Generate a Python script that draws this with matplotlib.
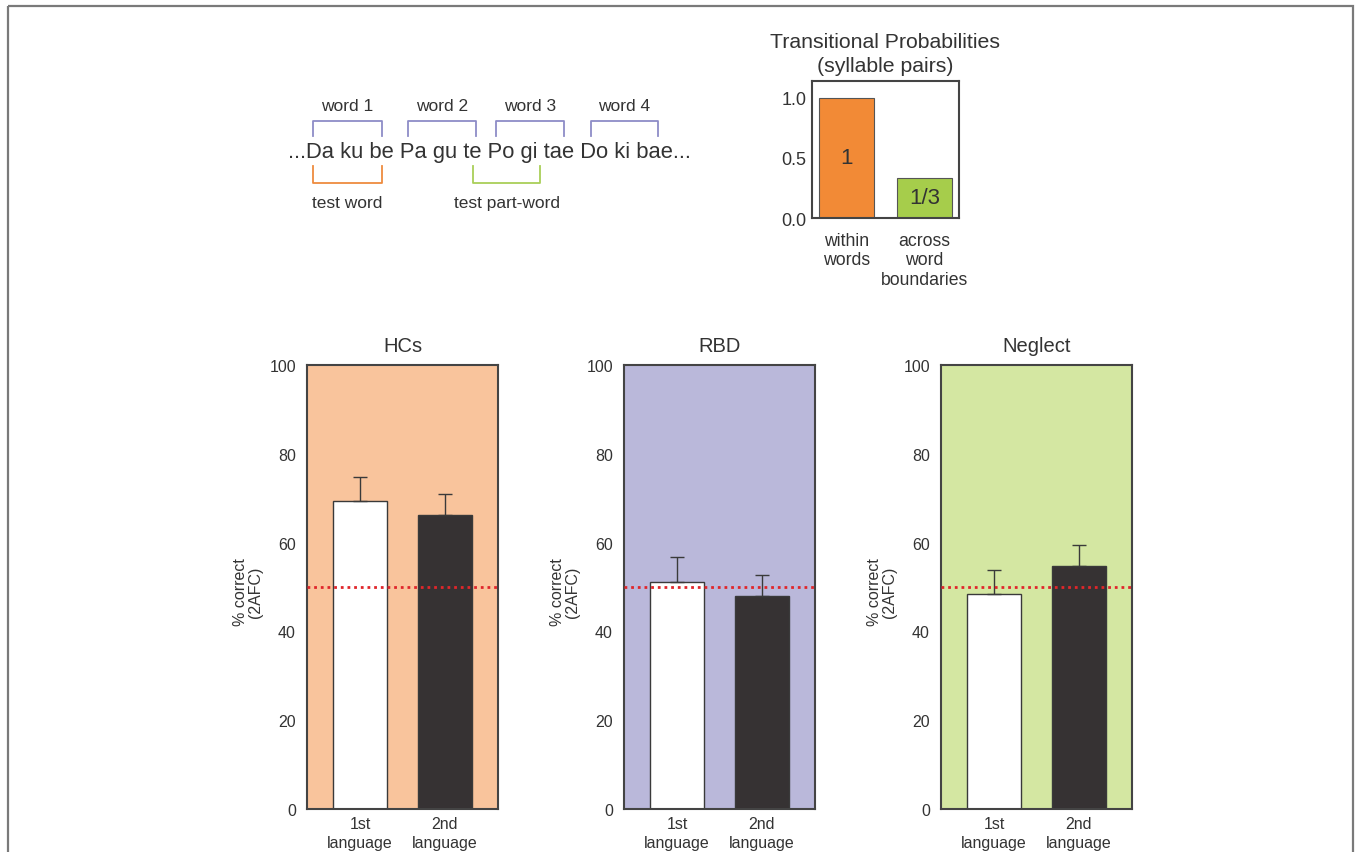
import matplotlib
matplotlib.use("Agg")
import matplotlib.pyplot as plt
from matplotlib.patches import Rectangle

plt.rcParams['font.family'] = ['Liberation Sans', 'DejaVu Sans']
plt.rcParams['text.color'] = '#333333'
plt.rcParams['axes.labelcolor'] = '#333333'
plt.rcParams['xtick.color'] = '#333333'
plt.rcParams['ytick.color'] = '#333333'

# transitional probabilities of syllable pairs
tp_labels = ["within\nwords", "across\nword\nboundaries"]
tp_values = [1.0, 1 / 3]
tp_texts = ["1", "1/3"]
tp_colors = ["#F28A36", "#A6CD4B"]

# 2AFC accuracy per group
groups = ["HCs", "RBD", "Neglect"]
group_bg = ["#F9C49C", "#BAB8DA", "#D4E7A2"]
conditions = ["1st\nlanguage", "2nd\nlanguage"]
mean_correct = {
    "HCs": [69.4, 66.2],
    "RBD": [51.1, 48.0],
    "Neglect": [48.4, 54.8],
}
sem_correct = {
    "HCs": [5.4, 4.7],
    "RBD": [5.6, 4.7],
    "Neglect": [5.4, 4.7],
}
chance = 50

# stream of syllables and the word segmentation above / test items below
stream = "...Da ku be Pa gu te Po gi tae Do ki bae..."
word_names = ["word 1", "word 2", "word 3", "word 4"]
word_spans = [(313, 382), (408, 476), (496, 564), (591, 658)]
test_names = ["test word", "test part-word"]
test_spans = [(313, 382), (473, 540)]
test_colors = ["#EE8B3F", "#A9CF58"]

W, H = 1356, 853
fig = plt.figure(figsize=(W / 100, H / 100), dpi=100)


def px_axes(l, t, r, b):
    return fig.add_axes([l / W, 1 - b / H, (r - l) / W, (b - t) / H])


def style_spines(ax):
    for s in ax.spines.values():
        s.set_color('#444444')
        s.set_linewidth(1.5)
    ax.tick_params(length=0)


# overlay for the diagram and the frame
ov = fig.add_axes([0, 0, 1, 1])
ov.set_xlim(0, W)
ov.set_ylim(H, 0)
ov.axis('off')
ov.add_patch(Rectangle((8, 7), 1345, 900, fill=False, edgecolor='#7a7a7a', lw=1.6))

ov.text(489.5, 152, stream, fontsize=15.8, ha='center', va='center', color='#333333')
for name, (x0, x1) in zip(word_names, word_spans):
    ov.plot([x0, x0, x1, x1], [137, 122, 122, 137], color='#8E8CC7', lw=1.3)
    ov.text((x0 + x1) / 2, 106, name, fontsize=12.5, ha='center', va='center')
for name, (x0, x1), c in zip(test_names, test_spans, test_colors):
    ov.plot([x0, x0, x1, x1], [167, 184, 184, 167], color=c, lw=1.3)
    ov.text((x0 + x1) / 2, 203, name, fontsize=12.5, ha='center', va='center')

# transitional probability bars
ax = px_axes(812, 82, 959, 219)
bars = ax.bar(range(len(tp_values)), tp_values, width=0.705, color=tp_colors,
              edgecolor='#555555', linewidth=0.8)
for b, v, t in zip(bars, tp_values, tp_texts):
    ax.text(b.get_x() + b.get_width() / 2, v / 2, t, fontsize=16,
            ha='center', va='center', color='#333333')
ax.set_xlim(-0.44, 1.44)
ax.set_ylim(0, 1.14)
ax.set_yticks([0, 0.5, 1.0])
ax.set_yticklabels(["0.0", "0.5", "1.0"], fontsize=13)
ax.set_xticks(range(len(tp_labels)))
ax.set_xticklabels(tp_labels, fontsize=12.7, va='top')
ax.tick_params(axis='x', pad=10)
ax.tick_params(axis='y', pad=4)
ax.set_title("Transitional Probabilities\n(syllable pairs)", fontsize=15.3, pad=7,
             color='#333333', linespacing=1.35)
style_spines(ax)

# group panels
panel_left = [307, 624, 941]
for g, bg, left in zip(groups, group_bg, panel_left):
    ax = px_axes(left, 366, left + 191, 810)
    ax.set_facecolor(bg)
    ax.bar([0, 1], mean_correct[g], width=0.64, color=['white', '#363233'],
           edgecolor='#3a3a3a', linewidth=1.0, zorder=2)
    ax.errorbar([0, 1], mean_correct[g], yerr=[[0, 0], sem_correct[g]], fmt='none',
                ecolor='#3a3a3a', elinewidth=1.0, capsize=5, capthick=1.0, zorder=3)
    ax.axhline(chance, color='#E0262B', lw=2.0, ls=(0, (1, 1.4)), zorder=4)
    ax.set_xlim(-0.63, 1.63)
    ax.set_ylim(0, 100)
    ax.set_yticks(range(0, 101, 20))
    ax.tick_params(axis='y', labelsize=11.5, pad=8)
    ax.set_xticks([0, 1])
    ax.set_xticklabels(conditions, fontsize=11.5, linespacing=1.3)
    ax.tick_params(axis='x', pad=5)
    ax.set_ylabel("% correct\n(2AFC)", fontsize=11.5, linespacing=1.0)
    ax.yaxis.set_label_coords(-0.23, 0.49)
    ax.set_title(g, fontsize=14.5, pad=10, color='#333333')
    style_spines(ax)

fig.savefig("out.png", dpi=100)
